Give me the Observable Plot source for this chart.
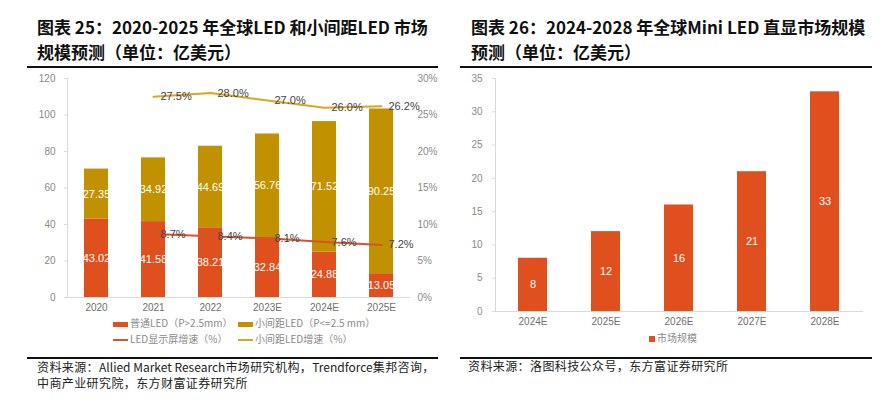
<!DOCTYPE html>
<html><head><meta charset="utf-8">
<script src="https://cdn.jsdelivr.net/npm/d3@7"></script>
<script src="https://cdn.jsdelivr.net/npm/@observablehq/plot@0.6"></script>
<style>
body{margin:0;width:887px;height:400px;background:#fff;position:relative;overflow:hidden;font-family:"Liberation Sans","Noto Sans CJK SC",sans-serif;}
.abs{position:absolute;}
.title{font-family:"Noto Sans CJK SC";font-weight:bold;font-size:17px;line-height:25px;color:#111;white-space:nowrap;}
.rule{height:1.5px;background:#111;}
.src{font-family:"Noto Sans CJK SC";font-size:12px;line-height:16px;color:#222;white-space:nowrap;letter-spacing:0.4px;}
.lat{letter-spacing:0;}
.leg{font-family:"Noto Sans CJK SC";font-size:10px;color:#8a8a8a;white-space:nowrap;line-height:12px;}
.sw{position:absolute;}
</style></head><body>
<div class="abs title" style="left:37px;top:14px;">图表 25：2020-2025 年全球LED 和小间距LED 市场<br>规模预测（单位：亿美元）</div>
<div class="abs title" style="left:471px;top:14px;">图表 26：2024-2028 年全球Mini LED 直显市场规模<br>预测（单位：亿美元）</div>
<div class="abs rule" style="left:27px;top:66px;width:411px;"></div>
<div class="abs rule" style="left:460px;top:66px;width:412px;"></div>
<div id="leftChart" class="abs" style="left:0;top:70px;"></div>
<div id="leftPct" class="abs" style="left:0;top:70px;"></div>
<div id="rightChart" class="abs" style="left:450px;top:70px;"></div>
<div id="legendLeft"></div>
<div id="legendRight"></div>
<div class="abs rule" style="left:27px;top:357px;width:411px;"></div>
<div class="abs rule" style="left:460px;top:357px;width:412px;"></div>
<div class="abs src" style="left:37px;top:359px;">资料来源：<span class="lat">Allied Market Research</span>市场研究机构，<span class="lat">Trendforce</span>集邦咨询，<br>中商产业研究院，东方财富证券研究所</div>
<div class="abs src" style="left:468px;top:358px;">资料来源：洛图科技公众号，东方富证券研究所</div>
<script>
// ---- data: left chart ----
const years = ["2020", "2021", "2022", "2023E", "2024E", "2025E"];
const normalLED = [43.02, 41.58, 38.21, 32.84, 24.88, 13.05];
const finePitchLED = [27.35, 34.92, 44.69, 56.76, 71.52, 90.25];
const growthYears = ["2021", "2022", "2023E", "2024E", "2025E"];
const ledGrowth = [8.7, 8.4, 8.1, 7.6, 7.2];
const fineGrowth = [27.5, 28.0, 27.0, 26.0, 26.2];
const seriesNames = ["普通LED（P>2.5mm）", "小间距LED（P<=2.5 mm）"];
const lineNames = ["LED显示屏增速（%）", "小间距LED增速（%）"];
const leftTicks = [0, 20, 40, 60, 80, 100, 120];
const pctTicks = [0, 5, 10, 15, 20, 25, 30];
// ---- data: right chart ----
const miniYears = ["2024E", "2025E", "2026E", "2027E", "2028E"];
const miniValues = [8, 12, 16, 21, 33];
const miniName = "市场规模";
const rightTicks = [0, 5, 10, 15, 20, 25, 30, 35];

const RED = "#E0501E", GOLD = "#C29100", REDLINE = "#D4542C", GOLDLINE = "#D6A624";
const AXIS = "#d9d9d9", TICKTXT = "#8a8a8a", XTXT = "#6f6f6f";

const rows = [];
years.forEach((y, i) => rows.push({year: y, series: seriesNames[0], value: normalLED[i]}));
years.forEach((y, i) => rows.push({year: y, series: seriesNames[1], value: finePitchLED[i]}));
const ledRows = growthYears.map((y, i) => ({year: y, v: ledGrowth[i]}));
const fineRows = growthYears.map((y, i) => ({year: y, v: fineGrowth[i]}));

const common = {
  width: 440, height: 250, marginTop: 8, marginBottom: 23, marginLeft: 67, marginRight: 30,
  style: {fontFamily: "Liberation Sans, Noto Sans CJK SC", fontSize: "10px", background: "transparent", overflow: "visible"}
};
const xLeft = {domain: years, paddingInner: 0.58, paddingOuter: 0.29, label: null};

const left = Plot.plot({
  ...common,
  x: xLeft,
  y: {domain: [0, 120], label: null},
  color: {domain: seriesNames, range: [RED, GOLD]},
  marks: [
    Plot.frame({anchor: "left", stroke: AXIS}),
    Plot.axisY({ticks: leftTicks, tickSize: 3, tickPadding: 9, stroke: AXIS, fill: TICKTXT, label: null}),
    Plot.axisX({tickSize: 0, tickPadding: 6, fill: XTXT, label: null}),
    Plot.barY(rows, {x: "year", y: "value", fill: "series"}),
    Plot.ruleY([0], {stroke: AXIS}),
    Plot.text(rows, Plot.stackY({x: "year", y: "value", z: "series", text: d => d.value.toFixed(2), fill: "white", fontSize: 11}))
  ]
});
document.getElementById("leftChart").appendChild(left);

const pct = Plot.plot({
  ...common,
  x: {...xLeft, axis: null},
  y: {domain: [0, 30], label: null},
  marks: [
    Plot.axisY({anchor: "right", ticks: pctTicks, tickFormat: d => d + "%", tickSize: 0, tickPadding: 7, fill: TICKTXT, label: null}),
    Plot.line(fineRows, {x: "year", y: "v", stroke: GOLDLINE, strokeWidth: 2}),
    Plot.line(ledRows, {x: "year", y: "v", stroke: REDLINE, strokeWidth: 2}),
    Plot.text(fineRows, {x: "year", y: "v", text: d => d.v.toFixed(1) + "%", textAnchor: "start", dx: 7, fill: "#444", fontSize: 11}),
    Plot.text(ledRows, {x: "year", y: "v", text: d => d.v.toFixed(1) + "%", textAnchor: "start", dx: 7, fill: "#444", fontSize: 11})
  ]
});
document.getElementById("leftPct").appendChild(pct);

const miniRows = miniYears.map((y, i) => ({year: y, value: miniValues[i]}));
const right = Plot.plot({
  width: 437, height: 265, marginTop: 8, marginBottom: 24, marginLeft: 45, marginRight: 24,
  style: {fontFamily: "Liberation Sans, Noto Sans CJK SC", fontSize: "10px", background: "transparent", overflow: "visible"},
  x: {domain: miniYears, paddingInner: 0.6, paddingOuter: 0.3, label: null},
  y: {domain: [0, 35], label: null},
  marks: [
    Plot.frame({anchor: "left", stroke: AXIS}),
    Plot.axisY({ticks: rightTicks, tickSize: 3, tickPadding: 10, stroke: AXIS, fill: TICKTXT, label: null}),
    Plot.axisX({tickSize: 0, tickPadding: 6, fill: XTXT, label: null}),
    Plot.barY(miniRows, {x: "year", y: "value", fill: RED}),
    Plot.ruleY([0], {stroke: AXIS}),
    Plot.text(miniRows, Plot.stackY({x: "year", y: "value", text: d => String(d.value), fill: "white", fontSize: 11}))
  ]
});
document.getElementById("rightChart").appendChild(right);

// ---- legends ----
function legendItem(parent, x, y, kind, color, label) {
  const sw = document.createElement("div");
  sw.className = "sw";
  if (kind === "bar") Object.assign(sw.style, {left: x + "px", top: (y - 2.5) + "px", width: "15px", height: "5px", background: color});
  else if (kind === "line") Object.assign(sw.style, {left: x + "px", top: (y - 1) + "px", width: "15px", height: "2px", background: color});
  else Object.assign(sw.style, {left: x + "px", top: (y - 3) + "px", width: "6px", height: "6px", background: color});
  parent.appendChild(sw);
  const t = document.createElement("div");
  t.className = "abs leg";
  t.style.left = (x + (kind === "square" ? 8 : 17)) + "px";
  t.style.top = (y - 7) + "px";
  t.textContent = label;
  parent.appendChild(t);
}
const lg = document.getElementById("legendLeft");
legendItem(lg, 113, 324, "bar", RED, seriesNames[0]);
legendItem(lg, 238, 324, "bar", GOLD, seriesNames[1]);
legendItem(lg, 113, 340, "line", REDLINE, lineNames[0]);
legendItem(lg, 238, 340, "line", GOLDLINE, lineNames[1]);
const lr = document.getElementById("legendRight");
legendItem(lr, 649, 339, "square", RED, miniName);
</script>
</body></html>
